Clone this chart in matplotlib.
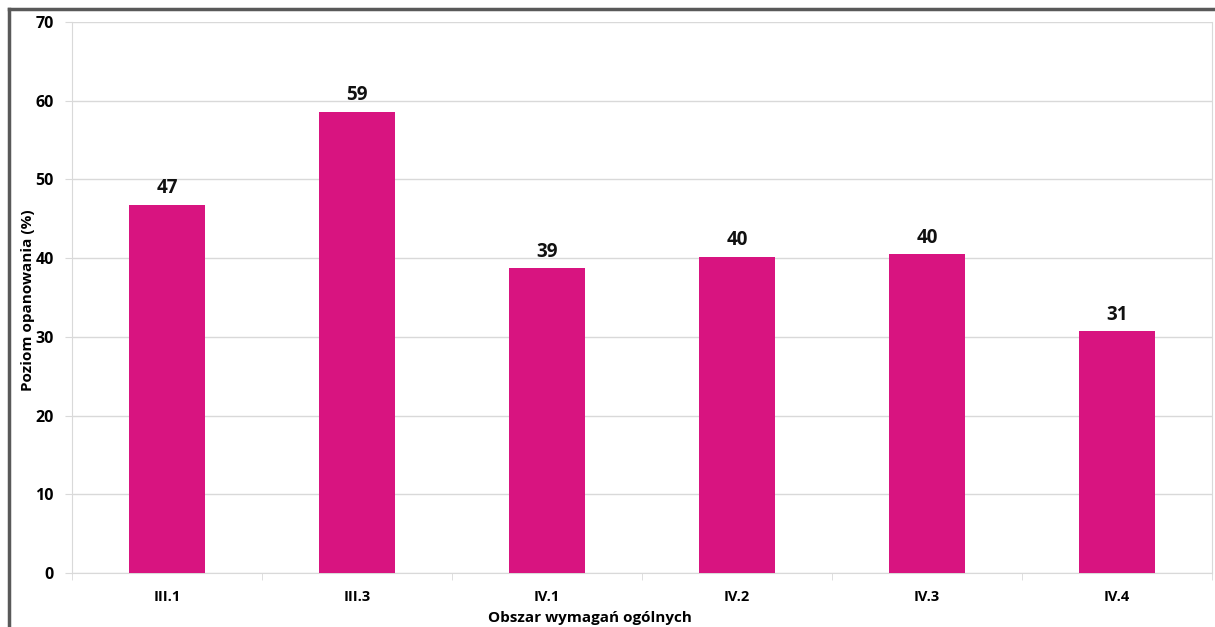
import matplotlib.pyplot as plt
import numpy as np
from matplotlib.lines import Line2D

kategorie = ["III.1", "III.3", "IV.1", "IV.2", "IV.3", "IV.4"]
wartosci = [46.8, 58.6, 38.7, 40.2, 40.5, 30.7]
etykiety = ["47", "59", "39", "40", "40", "31"]

plt.rcParams['font.family'] = ['Open Sans', 'DejaVu Sans']

W, H = 1215, 627
fig = plt.figure(figsize=(W / 100, H / 100), dpi=100)
ax = fig.add_axes([72 / W, 1 - 573 / H, (1212 - 72) / W, (573 - 22) / H])

x = np.arange(len(kategorie))
ax.bar(x, wartosci, width=0.4, color='#D81480', zorder=3)
for xi, v, e in zip(x, wartosci, etykiety):
	ax.text(xi, v + 0.8, e, ha='center', va='bottom', fontsize=13.5, fontweight='bold', color='#111111')

ax.set_xlim(-0.5, len(kategorie) - 0.5)
ax.set_ylim(0, 70)
ax.set_yticks(range(0, 71, 10))
ax.yaxis.grid(True, color='#D9D9D9', lw=1, zorder=0)
ax.set_xticks(x)
ax.set_xticklabels(kategorie, fontsize=10.5, fontweight='bold')
ax.set_xticks(np.arange(-0.5, len(kategorie)), minor=True)
ax.tick_params(axis='x', which='major', length=0, pad=12)
ax.tick_params(axis='x', which='minor', length=5, color='#D9D9D9')
ax.tick_params(axis='y', length=5, color='#D9D9D9', labelsize=11.5, pad=8)
for lab in ax.get_yticklabels():
	lab.set_fontweight('bold')
for s in ['left', 'bottom', 'right']:
	ax.spines[s].set_color('#D9D9D9')
ax.spines['top'].set_visible(False)

ax.set_ylabel('Poziom opanowania (%)', fontsize=11, fontweight='bold')
ax.yaxis.set_label_coords((35 - 72) / (1212 - 72), (573 - 300) / (573 - 22))
fig.text(590 / W, 1 - 618 / H, 'Obszar wymagań ogólnych', ha='center', va='center', fontsize=11, fontweight='bold')

# ramka
fig.add_artist(Line2D([9 / W, 9 / W], [0, 1 - 9 / H], color='#595959', lw=2.5, transform=fig.transFigure))
fig.add_artist(Line2D([9 / W, 1], [1 - 9 / H, 1 - 9 / H], color='#595959', lw=2.5, transform=fig.transFigure))

plt.savefig('out.png', dpi=100)
